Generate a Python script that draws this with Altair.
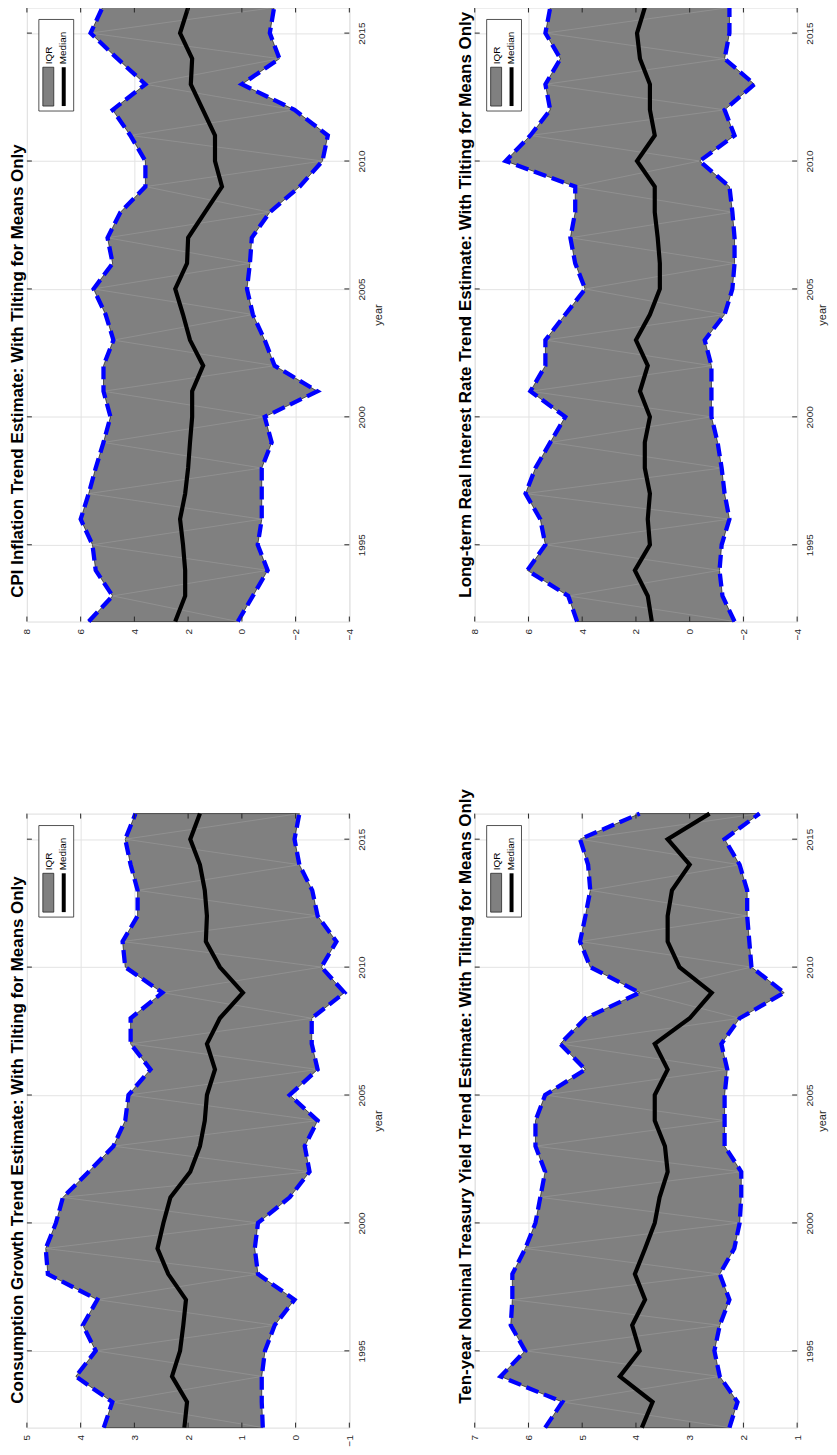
import altair as alt
import pandas as pd

years = list(range(1992, 2017))

cpi_hi = [5.70, 4.81, 5.44, 5.56, 6.00, 5.70, 5.44, 5.15, 4.89, 5.15, 5.15, 4.78, 5.07, 5.52, 4.81, 5.00, 4.52, 3.59, 3.59, 4.15, 4.81, 3.59, 4.63, 5.63, 5.19]
cpi_med = [2.48, 2.11, 2.11, 2.19, 2.30, 2.11, 2.00, 1.93, 1.85, 1.85, 1.44, 1.93, 2.19, 2.48, 2.04, 2.00, 1.37, 0.74, 1.00, 1.00, 1.45, 1.90, 1.85, 2.30, 2.00]
cpi_lo = [0.15, -0.41, -0.96, -0.59, -0.74, -0.74, -0.74, -1.11, -0.85, -2.81, -1.22, -0.85, -0.41, -0.19, -0.30, -0.37, -1.04, -2.15, -3.00, -3.20, -1.96, 0.00, -1.40, -1.04, -1.20]

lt_hi = [4.19, 4.52, 6.04, 5.37, 5.56, 6.11, 5.74, 5.19, 4.63, 5.93, 5.37, 5.37, 4.63, 3.89, 4.26, 4.44, 4.26, 4.26, 6.85, 5.93, 5.19, 5.37, 4.81, 5.37, 5.19]
lt_med = [1.41, 1.56, 2.04, 1.48, 1.56, 1.48, 1.67, 1.67, 1.48, 1.85, 1.56, 2.00, 1.48, 1.11, 1.11, 1.19, 1.30, 1.30, 1.96, 1.30, 1.48, 1.48, 1.85, 1.96, 1.67]
lt_lo = [-1.67, -1.22, -1.11, -1.19, -1.48, -1.30, -1.19, -1.04, -0.81, -0.81, -0.81, -0.56, -1.30, -1.59, -1.67, -1.67, -1.59, -1.48, -0.37, -1.67, -1.30, -2.41, -1.30, -1.48, -1.48]

cons_hi = [3.57, 3.41, 4.09, 3.72, 3.96, 3.69, 4.61, 4.65, 4.46, 4.33, 3.85, 3.39, 3.17, 3.11, 2.70, 3.07, 3.07, 2.48, 3.17, 3.22, 2.94, 2.94, 3.07, 3.17, 2.98]
cons_med = [2.07, 2.02, 2.30, 2.15, 2.09, 2.04, 2.37, 2.57, 2.46, 2.33, 1.96, 1.78, 1.69, 1.65, 1.50, 1.65, 1.41, 0.98, 1.41, 1.67, 1.65, 1.69, 1.78, 1.96, 1.78]
cons_lo = [0.61, 0.63, 0.63, 0.57, 0.39, 0.02, 0.70, 0.76, 0.70, 0.11, -0.26, -0.17, -0.41, 0.11, -0.41, -0.30, -0.30, -0.91, -0.48, -0.76, -0.41, -0.31, -0.07, 0.02, -0.07]

ten_hi = [5.69, 5.37, 6.52, 6.06, 6.33, 6.30, 6.30, 6.06, 5.87, 5.78, 5.69, 5.87, 5.87, 5.69, 4.94, 5.41, 4.94, 3.93, 4.85, 5.04, 4.94, 4.85, 4.89, 5.04, 3.93]
ten_med = [3.89, 3.69, 4.30, 3.93, 4.07, 3.83, 4.02, 3.83, 3.65, 3.56, 3.41, 3.46, 3.65, 3.65, 3.41, 3.65, 3.00, 2.59, 3.19, 3.41, 3.41, 3.33, 3.00, 3.41, 2.63]
ten_lo = [2.26, 2.11, 2.44, 2.54, 2.44, 2.26, 2.44, 2.17, 2.07, 2.04, 2.04, 2.35, 2.35, 2.35, 2.30, 2.41, 2.07, 1.24, 1.85, 1.89, 1.93, 1.93, 2.07, 2.35, 1.70]

year_ticks = [1995, 2000, 2005, 2010, 2015]
ticks_wide = [-4, -2, 0, 2, 4, 6, 8]
ticks_cons = [-1, 0, 1, 2, 3, 4, 5]
ticks_ten = [1, 2, 3, 4, 5, 6, 7]

titles = {
    "cpi": "CPI Inflation Trend Estimate: With Tilting for Means Only",
    "lt": "Long-term Real Interest Rate Trend Estimate: With Tilting for Means Only",
    "cons": "Consumption Growth Trend Estimate: With Tilting for Means Only",
    "ten": "Ten-year Nominal Treasury Yield Trend Estimate: With Tilting for Means Only",
}
legend_labels = ["IQR", "Median"]

FONT = "Liberation Sans"
W, H = 324, 617
TXT = "#262626"
GRID = "#e3e3e3"


def zigzag(lo, hi):
    # edges of the filled patch's triangulation (upper vertex to neighbouring lower vertices)
    rows = []
    for i in range(1, len(years), 2):
        for j in (i - 1, i + 1):
            if 0 <= j < len(years):
                rows.append({"year": years[i], "yb": years[j], "lo": hi[i], "vb": lo[j]})
    return pd.DataFrame(rows)


def panel(title, lo, med, hi, vticks, year_pad):
    df = pd.DataFrame({"year": years, "lo": lo, "med": med, "hi": hi})
    xs = alt.Scale(domain=[vticks[0], vticks[-1]], reverse=True, nice=False, zero=False)
    ys = alt.Scale(domain=[1992, 2016], nice=False, zero=False)
    xaxis = alt.Axis(values=vticks, orient="bottom", title=None, format="d",
                     labelAngle=270, labelAlign="right", labelBaseline="middle",
                     labelPadding=7, labelFont=FONT, labelFontSize=10, labelColor=TXT,
                     domain=False, ticks=False, tickSize=0, grid=True,
                     gridColor=GRID, gridWidth=1, labelFlush=False, labelOverlap=False)
    yaxis = alt.Axis(values=year_ticks, orient="right", title="year", format="d",
                     labelAngle=270, labelAlign="center", labelBaseline="top",
                     labelPadding=7, labelFont=FONT, labelFontSize=10, labelColor=TXT,
                     titleAngle=270, titleBaseline="top", titleAlign="center",
                     titleFont=FONT, titleFontSize=11, titleFontWeight="normal",
                     titleColor=TXT, titlePadding=year_pad,
                     domain=False, ticks=False, tickSize=0, grid=True,
                     gridColor=GRID, gridWidth=1, labelFlush=False, labelOverlap=False)
    base = alt.Chart(df)
    area = base.mark_area(orient="horizontal", color="#808080", stroke="black",
                          strokeWidth=0.6).encode(
        y=alt.Y("year:Q", scale=ys, axis=yaxis),
        x=alt.X("lo:Q", scale=xs, axis=xaxis),
        x2="hi:Q",
    )
    tri = alt.Chart(zigzag(lo, hi)).mark_rule(color="#a0a0a0", strokeWidth=0.5).encode(
        y="year:Q", y2="yb:Q", x="lo:Q", x2="vb:Q")
    dash = dict(orient="horizontal", color="#0000ff", strokeWidth=4.3, strokeDash=[13, 6])
    hi_line = base.mark_line(**dash).encode(y="year:Q", x="hi:Q", order="year:Q")
    lo_line = base.mark_line(**dash).encode(y="year:Q", x="lo:Q", order="year:Q")
    med_line = base.mark_line(orient="horizontal", color="black", strokeWidth=4.2).encode(
        y="year:Q", x="med:Q", order="year:Q")

    # inward tick marks on all four sides
    yt = alt.Chart(pd.DataFrame({"year": year_ticks}))
    vt = alt.Chart(pd.DataFrame({"lo": vticks}))
    tk = dict(color=TXT, strokeWidth=1)
    t1 = yt.mark_rule(**tk).encode(y="year:Q", x=alt.value(0), x2=alt.value(5))
    t2 = yt.mark_rule(**tk).encode(y="year:Q", x=alt.value(W - 5), x2=alt.value(W))
    t3 = vt.mark_rule(**tk).encode(x="lo:Q", y=alt.value(H - 5), y2=alt.value(H))
    t4 = vt.mark_rule(**tk).encode(x="lo:Q", y=alt.value(0), y2=alt.value(5))

    one = alt.Chart(pd.DataFrame({"k": [0]}))
    box = one.mark_rect(fill="white", stroke=TXT, strokeWidth=0.8).encode(
        x=alt.value(12), x2=alt.value(47), y=alt.value(12), y2=alt.value(104))
    patch = one.mark_rect(fill="#808080", stroke=TXT, strokeWidth=0.8).encode(
        x=alt.value(16), x2=alt.value(27), y=alt.value(60), y2=alt.value(99))
    mline = one.mark_rule(color="black", strokeWidth=4).encode(
        x=alt.value(37), y=alt.value(60), y2=alt.value(99))
    txt_iqr = one.mark_text(angle=270, align="left", baseline="middle", font=FONT,
                            fontSize=10, color="black").encode(
        x=alt.value(22), y=alt.value(57), text=alt.value(legend_labels[0]))
    txt_med = one.mark_text(angle=270, align="left", baseline="middle", font=FONT,
                            fontSize=10, color="black").encode(
        x=alt.value(36), y=alt.value(57), text=alt.value(legend_labels[1]))
    ttl = one.mark_text(angle=270, align="left", baseline="middle", font=FONT,
                        fontSize=17, fontWeight="bold", color="black").encode(
        x=alt.value(-9), y=alt.value(H - 24), text=alt.value(title))
    # invisible frame fixing each panel's outer extent for the layout
    anchor = one.mark_rule(opacity=0, strokeWidth=0).encode(
        x=alt.value(-40), x2=alt.value(W + 40), y=alt.value(-80), y2=alt.value(H + 20))

    return alt.layer(area, tri, hi_line, lo_line, med_line, t1, t2, t3, t4,
                     box, patch, mline, txt_iqr, txt_med, ttl, anchor).properties(
        width=W, height=H)


cpi = panel(titles["cpi"], cpi_lo, cpi_med, cpi_hi, ticks_wide, 6)
lt = panel(titles["lt"], lt_lo, lt_med, lt_hi, ticks_wide, 2)
cons = panel(titles["cons"], cons_lo, cons_med, cons_hi, ticks_cons, 6)
ten = panel(titles["ten"], ten_lo, ten_med, ten_hi, ticks_ten, 2)

chart = alt.vconcat(
    alt.hconcat(cpi, lt, spacing=44),
    alt.hconcat(cons, ten, spacing=44),
    spacing=91,
).properties(
    padding={"left": -22, "top": -85, "right": -9, "bottom": 0}
).configure_view(stroke=TXT, strokeWidth=1).configure(background="white")

chart.save("out.html", embed_options={"renderer": "svg", "actions": False})
